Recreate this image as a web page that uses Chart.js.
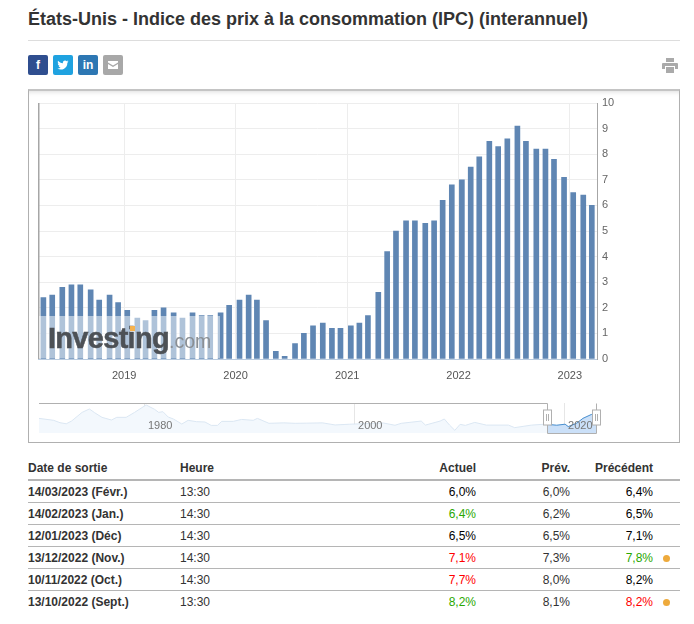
<!DOCTYPE html>
<html lang="fr">
<head>
<meta charset="utf-8">
<title>États-Unis - Indice des prix à la consommation (IPC)</title>
<script src="https://cdn.jsdelivr.net/npm/chart.js@4/dist/chart.umd.min.js"></script>
<style>
    html, body { margin: 0; padding: 0; background: #fff; }
    body { position: relative; width: 694px; height: 624px; overflow: hidden; font-family: "Liberation Sans", Arial, sans-serif; color: #333; }
    h1 { position: absolute; left: 28px; top: 8px; margin: 0; font-size: 18px; line-height: 22px; font-weight: bold; color: #333; white-space: nowrap; }
    .rule { position: absolute; left: 28px; top: 40px; width: 652px; height: 1px; background: #ddd; }
    .share { position: absolute; top: 55px; width: 20px; height: 20px; border-radius: 2px; color: #fff; font-size: 12px; font-weight: bold; line-height: 20px; text-align: center; }
    .share svg { display: block; margin: 4px auto 0; }
    .print { position: absolute; left: 662px; top: 58px; }
    .frame { position: absolute; left: 28px; top: 89px; width: 650px; height: 351px; border: 1px solid #b0b0b0; border-top: 2px solid #c4c4c4; box-shadow: inset 0 5px 5px -4px #ddd; }
    canvas { position: absolute; }
    .veil { position: absolute; left: 39px; top: 316px; width: 181px; height: 42px; background: rgba(255, 255, 255, 0.5); }
    .logo { position: absolute; left: 48px; top: 320px; white-space: nowrap; font-size: 29px; line-height: 36px; font-weight: bold; letter-spacing: -0.7px; color: #4d5156; -webkit-text-stroke: 0.5px #4d5156; }
    .logo span { font-size: 19.5px; font-weight: normal; letter-spacing: 0; color: #8a8f94; -webkit-text-stroke: 0; }
    .logo i { position: absolute; left: 82px; top: 6px; width: 5px; height: 5px; background: #f6b24e; }
    table { position: absolute; left: 28px; top: 456px; width: 652px; border-collapse: collapse; table-layout: fixed; font-size: 12px; }
    th { height: 23px; padding: 0; font-weight: bold; color: #333; text-align: left; border-bottom: 2px solid #b5b5b5; }
    td { height: 21px; padding: 0; color: #333; border-bottom: 1px solid #b5b5b5; }
    tr:last-child td { border-bottom: 0; }
    .num { text-align: right; }
    .date { font-weight: bold; }
    .black { color: #000; }
    .green { color: #2aa800; }
    .red { color: #f00; }
    .dot { display: inline-block; width: 7px; height: 7px; border-radius: 50%; background: #eeaa3c; margin-left: 10px; }
</style>
</head>
<body>
<h1>États-Unis - Indice des prix à la consommation (IPC) (interannuel)</h1>
<div class="rule"></div>
<div class="share" style="left:28px;background:#2f4e8f">f</div>
<div class="share" style="left:53px;background:#1fa2e0"><svg width="12" height="12" viewBox="0 0 24 24"><path fill="#fff" d="M23 5c-.8.4-1.700.6-2.600.7 1-.6 1.700-1.500 2-2.500-.9.500-1.900.9-2.900 1.100A4.600 4.600 0 0 0 11.700 8.500C7.900 8.300 4.500 6.500 2.200 3.700c-1.200 2.100-.6 4.800 1.400 6.100-.7 0-1.400-.2-2-.6 0 2.200 1.500 4.200 3.700 4.600-.7.200-1.400.2-2.100.1.600 1.800 2.300 3.100 4.300 3.200A9.300 9.300 0 0 1 .7 19a13 13 0 0 0 20-11.500c.9-.6 1.700-1.500 2.300-2.500z"/></svg></div>
<div class="share" style="left:78px;background:#2d77b3">in</div>
<div class="share" style="left:103px;background:#a8a8a8"><svg width="12" height="12" viewBox="0 0 24 24"><path fill="#fff" d="M2 4h20v3l-10 6L2 7zm0 6l10 6 10-6v10H2z"/></svg></div>
<svg class="print" width="16" height="15" viewBox="0 0 16 15"><path fill="#aaa" d="M4 0h8v4H4zM1 5h14a1 1 0 0 1 1 1v5h-3V8H3v3H0V6a1 1 0 0 1 1-1zM4 9h8v6H4z"/></svg>
<div class="frame"></div>
<canvas id="priceChart" width="652" height="300" style="left:28px;top:91px"></canvas>
<div class="veil"></div>
<div class="logo">Investing<span>.com</span><i></i></div>
<canvas id="navChart" width="652" height="45" style="left:28px;top:395px"></canvas>
<table>
    <colgroup><col style="width:152px"><col style="width:190px"><col style="width:106px"><col style="width:94px"><col style="width:83px"><col style="width:27px"></colgroup>
    <thead id="tableHead"></thead>
    <tbody id="tableBody"></tbody>
</table>

<script>
// release date of each monthly figure, and the yearly change in %
const releaseDates = [
    "2018-04-11", "2018-05-10", "2018-06-12", "2018-07-12", "2018-08-10", "2018-09-13", "2018-10-11", "2018-11-14", "2018-12-12",
    "2019-01-11", "2019-02-13", "2019-03-12", "2019-04-10", "2019-05-10", "2019-06-12", "2019-07-11", "2019-08-13", "2019-09-12", "2019-10-10", "2019-11-13", "2019-12-11",
    "2020-01-14", "2020-02-13", "2020-03-11", "2020-04-10", "2020-05-12", "2020-06-10", "2020-07-14", "2020-08-12", "2020-09-11", "2020-10-13", "2020-11-12", "2020-12-10",
    "2021-01-13", "2021-02-10", "2021-03-10", "2021-04-13", "2021-05-12", "2021-06-10", "2021-07-13", "2021-08-11", "2021-09-14", "2021-10-13", "2021-11-10", "2021-12-10",
    "2022-01-12", "2022-02-10", "2022-03-10", "2022-04-12", "2022-05-11", "2022-06-10", "2022-07-13", "2022-08-10", "2022-09-13", "2022-10-13", "2022-11-10", "2022-12-13",
    "2023-01-12", "2023-02-14", "2023-03-14"
];
const cpiValues = [
    2.4, 2.5, 2.8, 2.9, 2.9, 2.7, 2.3, 2.5, 2.2,
    1.9, 1.6, 1.5, 1.9, 2.0, 1.8, 1.6, 1.8, 1.7, 1.7, 1.8, 2.1,
    2.3, 2.5, 2.3, 1.5, 0.3, 0.1, 0.6, 1.0, 1.3, 1.4, 1.2, 1.2,
    1.3, 1.4, 1.7, 2.6, 4.2, 5.0, 5.4, 5.4, 5.3, 5.4, 6.2, 6.8,
    7.0, 7.5, 7.9, 8.5, 8.3, 8.6, 9.1, 8.5, 8.2, 8.2, 7.8, 7.1,
    6.5, 6.4, 6.0
];
const yearTicks = [2019, 2020, 2021, 2022, 2023];
const yTicks = [0, 1, 2, 3, 4, 5, 6, 7, 8, 9, 10];

// long history shown in the navigator strip
const navYears = [
    1970, 1971.4, 1972, 1972.6, 1973.1, 1974.1, 1974.8, 1975.3, 1976, 1976.9, 1977.4, 1978.3, 1979.1, 1980.2, 1981, 1981.4, 1981.8,
    1982.3, 1982.8, 1983.6, 1984.2, 1985, 1985.8, 1986.4, 1987, 1987.4, 1988.5, 1989.3, 1990.4, 1990.8, 1991.9, 1993.3, 1994.4,
    1995.5, 1997, 1998.2, 1999.6, 2002.8, 2003.9, 2004.5, 2006.4, 2006.8, 2008.2, 2008.6, 2009.1, 2009.6, 2010.1, 2010.6, 2011.5,
    2012.6, 2014.7, 2015.3, 2016.9, 2018, 2018.4, 2019.3, 2020.1, 2020.4, 2021.2, 2021.8, 2022.6, 2023.14
];
const navValues = [
    5.8, 4.5, 2.9, 2.2, 4.0, 9.8, 12.1, 9.6, 6.5, 4.7, 6.5, 6.5, 9.8, 14.8, 11.9, 9.8, 10.3,
    6.7, 5.4, 2.0, 4.5, 3.6, 3.4, 1.1, 1.1, 3.8, 3.8, 5.1, 4.5, 5.8, 2.5, 2.8, 2.5,
    2.6, 2.8, 1.4, 1.9, 2.7, 1.2, 2.5, 4.0, 1.3, 4.0, 5.4, 1.3, -2.2, 1.8, 1.1, 3.1,
    1.3, 1.3, -0.4, 1.3, 1.8, 1.8, 1.2, 1.9, 0.3, 2.5, 5.8, 8.4, 8.4
];
const navYearTicks = [1980, 2000, 2020];
const windowStart = 2018.4;

const tableHeaders = ["Date de sortie", "Heure", "Actuel", "Prév.", "Précédent", ""];
const releaseRows = ["14/03/2023 (Févr.)", "14/02/2023 (Jan.)", "12/01/2023 (Déc)", "13/12/2022 (Nov.)", "10/11/2022 (Oct.)", "13/10/2022 (Sept.)"];
const releaseHours = ["13:30", "14:30", "14:30", "14:30", "14:30", "13:30"];
const actualValues = ["6,0%", "6,4%", "6,5%", "7,1%", "7,7%", "8,2%"];
const actualColors = ["black", "green", "black", "red", "red", "green"];
const forecastValues = ["6,0%", "6,2%", "6,5%", "7,3%", "8,0%", "8,1%"];
const previousValues = ["6,4%", "6,5%", "7,1%", "7,8%", "8,2%", "8,2%"];
const previousColors = ["black", "black", "black", "green", "black", "red"];
const revisedRows = [false, false, false, true, false, true];

const toMs = (text) => Date.parse(text + "T00:00:00Z");
const gridColor = "#ededed";

new Chart(document.getElementById("priceChart"), {
    type: "bar",
    data: {
        datasets: [{
            data: releaseDates.map((d, i) => ({ x: toMs(d), y: cpiValues[i] })),
            backgroundColor: "#5f86b3",
            barThickness: 5,
            borderWidth: 0,
        }],
    },
    options: {
        responsive: false,
        animation: false,
        events: [],
        layout: { padding: { left: 10.5, top: 12, right: 0, bottom: 0 } },
        plugins: {
            legend: { display: false },
            tooltip: { enabled: false },
        },
        scales: {
            x: {
                type: "linear",
                offset: false,
                min: toMs("2018-03-26"),
                max: toMs("2023-03-31"),
                grid: { offset: false, color: gridColor, lineWidth: 1, drawTicks: false },
                border: { display: true, color: "#b9cbdf", width: 1 },
                afterBuildTicks(scale) {
                    scale.ticks = yearTicks.map((y) => ({ value: Date.UTC(y, 0, 1) }));
                },
                afterFit(scale) {
                    scale.height = 32;
                },
                ticks: {
                    autoSkip: false,
                    maxRotation: 0,
                    padding: 10,
                    color: "#555",
                    font: { family: "'Liberation Sans', Arial, sans-serif", size: 11 },
                    callback: (value) => new Date(value).getUTCFullYear(),
                },
            },
            y: {
                position: "right",
                min: 0,
                max: 10,
                grid: { color: gridColor, lineWidth: 1, drawTicks: false },
                border: { display: true, color: "#a6a6a6", width: 1 },
                afterBuildTicks(scale) {
                    scale.ticks = yTicks.map((v) => ({ value: v }));
                },
                afterFit(scale) {
                    scale.width = 83;
                },
                ticks: {
                    padding: 5,
                    color: "#666",
                    crossAlign: "near",
                    font: { family: "'Liberation Sans', Arial, sans-serif", size: 11 },
                },
            },
        },
    },
    plugins: [{
        id: "leftAxisLine",
        afterDraw(chart) {
            const ctx = chart.ctx;
            const area = chart.chartArea;
            ctx.save();
            ctx.fillStyle = "#a6a6a6";
            ctx.fillRect(area.left - 0.5, area.top, 1.5, area.bottom - area.top);
            ctx.restore();
        },
    }],
});

// draws year lines, labels and the selected window of the navigator
const navigatorDecor = {
    id: "navigatorDecor",
    beforeDatasetsDraw(chart) {
        const ctx = chart.ctx;
        const area = chart.chartArea;
        const x = chart.scales.x;
        ctx.save();
        ctx.strokeStyle = "#e6e6e6";
        navYearTicks.forEach((year) => {
            const px = Math.round(x.getPixelForValue(year)) + 0.5;
            ctx.beginPath();
            ctx.moveTo(px, area.top);
            ctx.lineTo(px, area.bottom);
            ctx.stroke();
        });
        ctx.restore();
    },
    afterDraw(chart) {
        const ctx = chart.ctx;
        const area = chart.chartArea;
        const x = chart.scales.x;
        const bandLeft = Math.round(x.getPixelForValue(windowStart)) + 0.5;
        const bandRight = Math.round(area.right) - 0.5;
        const top = Math.round(area.top) + 0.5;
        const bottom = Math.round(area.bottom) + 0.5;
        ctx.save();
        ctx.font = "11px 'Liberation Sans', Arial, sans-serif";
        ctx.fillStyle = "#777";
        ctx.textBaseline = "middle";
        navYearTicks.forEach((year) => {
            ctx.fillText(String(year), x.getPixelForValue(year) + 4, 30.5);
        });
        ctx.strokeStyle = "#b0b0b0";
        ctx.beginPath();
        ctx.moveTo(area.left, top);
        ctx.lineTo(bandLeft, top);
        ctx.lineTo(bandLeft, bottom);
        ctx.lineTo(bandRight, bottom);
        ctx.lineTo(bandRight, top);
        ctx.stroke();
        [bandLeft, bandRight].forEach((px) => {
            ctx.fillStyle = "#fff";
            ctx.fillRect(px - 4, 15, 8, 15);
            ctx.strokeRect(px - 4, 15, 8, 15);
            ctx.beginPath();
            ctx.moveTo(px - 1, 19);
            ctx.lineTo(px - 1, 26);
            ctx.moveTo(px + 1, 19);
            ctx.lineTo(px + 1, 26);
            ctx.stroke();
        });
        ctx.restore();
    },
};

const navPoints = navYears.map((y, i) => ({ x: y, y: navValues[i] }));

new Chart(document.getElementById("navChart"), {
    type: "line",
    data: {
        datasets: [
            {
                data: navPoints,
                borderColor: "#dbe7f3",
                backgroundColor: "#f3f8fd",
                borderWidth: 1,
                pointRadius: 0,
                tension: 0,
                fill: "start",
                order: 1,
            },
            {
                data: navPoints.filter((p) => p.x >= windowStart),
                borderColor: "#4a90d0",
                backgroundColor: "#cbe0f8",
                borderWidth: 1,
                pointRadius: 0,
                tension: 0,
                fill: "start",
                order: 0,
            },
        ],
    },
    options: {
        responsive: false,
        animation: false,
        events: [],
        layout: { padding: { left: 11, right: 83, top: 8, bottom: 7 } },
        plugins: {
            legend: { display: false },
            tooltip: { enabled: false },
        },
        scales: {
            x: { type: "linear", display: false, min: 1970, max: 2023.14 },
            y: { display: false, min: -4, max: 16.1 },
        },
    },
    plugins: [navigatorDecor],
});

// table below the chart
document.getElementById("tableHead").innerHTML = "<tr>" + tableHeaders.map((text, i) =>
    `<th class="${i >= 2 && i <= 4 ? "num" : ""}">${text}</th>`).join("") + "</tr>";

document.getElementById("tableBody").innerHTML = releaseRows.map((row, i) => `
    <tr>
        <td class="date">${row}</td>
        <td>${releaseHours[i]}</td>
        <td class="num ${actualColors[i]}">${actualValues[i]}</td>
        <td class="num">${forecastValues[i]}</td>
        <td class="num ${previousColors[i]}">${previousValues[i]}</td>
        <td>${revisedRows[i] ? '<span class="dot"></span>' : ""}</td>
    </tr>`).join("");
</script>
</body>
</html>
